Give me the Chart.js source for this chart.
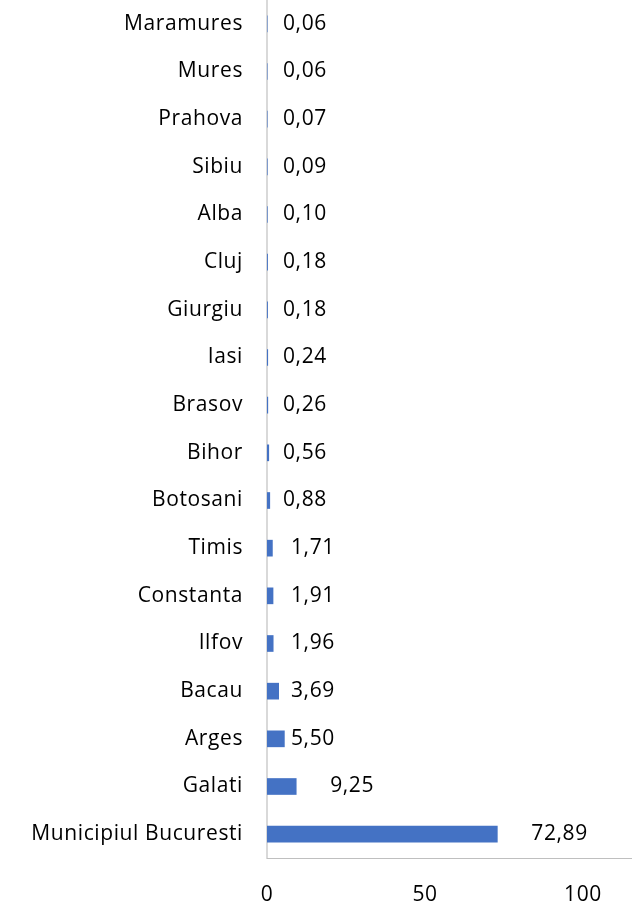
<!DOCTYPE html>
<html>
<head>
<meta charset="utf-8">
<script src="https://cdn.jsdelivr.net/npm/chart.js@4/dist/chart.umd.min.js"></script>
<style>
  body { margin: 0; background: #fff; }
  #wrap { width: 632px; height: 901px; position: relative; }
</style>
</head>
<body>
<div id="wrap"><canvas id="myChart"></canvas></div>
<script>
var judete = ["Maramures", "Mures", "Prahova", "Sibiu", "Alba", "Cluj", "Giurgiu", "Iasi",
    "Brasov", "Bihor", "Botosani", "Timis", "Constanta", "Ilfov", "Bacau", "Arges", "Galati",
    "Municipiul Bucuresti"];
var procente = [0.06, 0.06, 0.07, 0.09, 0.10, 0.18, 0.18, 0.24, 0.26, 0.56, 0.88, 1.71, 1.91,
    1.96, 3.69, 5.50, 9.25, 72.89];
var xTicks = [0, 50, 100];

var fontFamily = "'Open Sans', sans-serif";
var fontSize = 21;

// a bit of tracking on all text (the context state is reset on resize)
var spacing = {
    id: 'spacing',
    beforeDraw: function(chart) {
        chart.ctx.letterSpacing = '0.6px';
    }
};

// value labels next to each bar, "0,06" style
var valueLabels = {
    id: 'valueLabels',
    afterDatasetsDraw: function(chart) {
        var ctx = chart.ctx;
        var meta = chart.getDatasetMeta(0);
        var x0 = chart.scales.x.getPixelForValue(0);
        ctx.save();
        ctx.font = fontSize + "px " + fontFamily;
        ctx.fillStyle = '#000';
        ctx.textAlign = 'left';
        ctx.textBaseline = 'middle';
        meta.data.forEach(function(bar, i) {
            var v = procente[i];
            var x;
            if (v > 6) {
                x = bar.x + 34;
            } else {
                x = x0 + (v >= 1 ? 24 : 16);
            }
            ctx.fillText(v.toFixed(2).replace('.', ','), x, bar.y);
        });
        ctx.restore();
    }
};

// bottom axis line runs on to the right edge
var bottomLine = {
    id: 'bottomLine',
    afterDraw: function(chart) {
        var ctx = chart.ctx;
        var a = chart.chartArea;
        ctx.save();
        ctx.strokeStyle = '#bfbfbf';
        ctx.lineWidth = 1;
        ctx.beginPath();
        ctx.moveTo(a.left, a.bottom + 0.5);
        ctx.lineTo(chart.width, a.bottom + 0.5);
        ctx.stroke();
        ctx.restore();
    }
};

var ctx = document.getElementById("myChart").getContext('2d');
var myChart = new Chart(ctx, {
    type: 'bar',
    data: {
        labels: judete,
        datasets: [{
            data: procente,
            backgroundColor: '#4472C4',
            barThickness: 16,
            borderWidth: 0
        }]
    },
    options: {
        indexAxis: 'y',
        responsive: true,
        maintainAspectRatio: false,
        animation: false,
        layout: { padding: { top: 0, right: 49, bottom: 0, left: 0 } },
        plugins: {
            legend: { display: false },
            tooltip: { enabled: false }
        },
        scales: {
            x: {
                min: 0,
                max: 100,
                afterBuildTicks: function(scale) {
                    scale.ticks = xTicks.map(function(v) { return { value: v }; });
                },
                afterFit: function(scale) {
                    scale.height = 43;
                    scale.paddingLeft = 0;
                    scale.paddingRight = 0;
                },
                grid: { display: false, drawTicks: false },
                border: { display: false },
                ticks: {
                    padding: 24,
                    color: '#000',
                    font: { family: fontFamily, size: fontSize }
                }
            },
            y: {
                afterFit: function(scale) {
                    scale.width = 267;
                    scale.paddingTop = 0;
                    scale.paddingBottom = 0;
                },
                grid: { display: false, drawTicks: false },
                border: { display: true, color: '#d9d9d9', width: 2 },
                ticks: {
                    padding: 24,
                    autoSkip: false,
                    color: '#000',
                    font: { family: fontFamily, size: fontSize }
                }
            }
        }
    },
    plugins: [spacing, valueLabels, bottomLine]
});
</script>
</body>
</html>
